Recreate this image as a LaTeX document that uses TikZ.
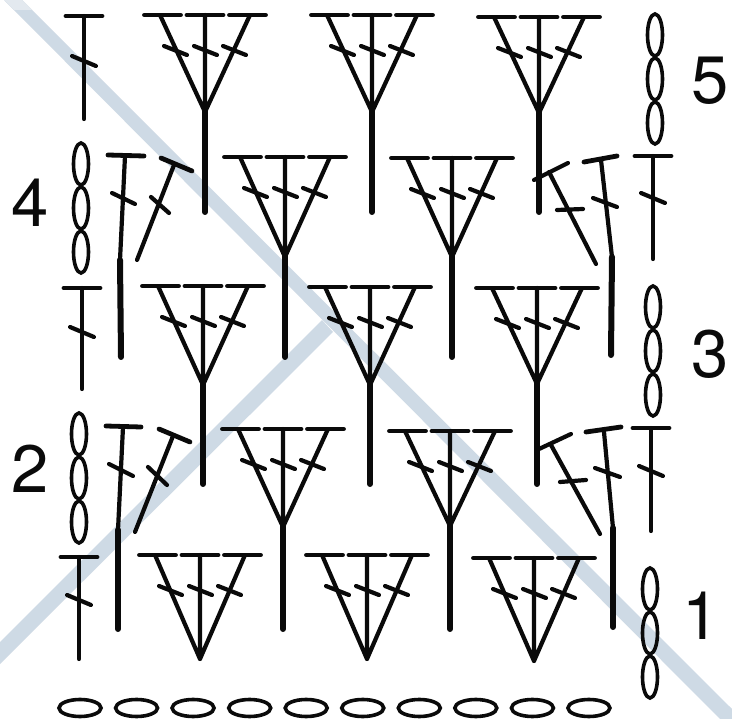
\documentclass[tikz,border=0pt]{standalone}
\usepackage{fontspec}
\setmainfont{TeX Gyre Heros}
\definecolor{band}{HTML}{CEDAE5}
\definecolor{bandlight}{HTML}{E3E9EF}
\definecolor{ink}{HTML}{0A0A0A}
\tikzset{
  thin stitch/.style={draw=ink,line width=4.2pt,line cap=round},
  bar stitch/.style={draw=ink,line width=4.8pt,line cap=round},
  thick stitch/.style={draw=ink,line width=6pt,line cap=round},
  chain stitch/.style={draw=ink,line width=3.6pt},
  row label/.style={font=\fontsize{67}{67}\selectfont,text=ink,inner sep=0pt},
}
% x, top y, apex y
\newcommand{\fanhead}[3]{%
  \draw[bar stitch] (#1-60.5,#2)--(#1-24.5,#2) (#1-18,#2)--(#1+18,#2) (#1+24.5,#2)--(#1+60.5,#2);
  \draw[thin stitch] (#1-45,#2)--(#1,#3) (#1,#2)--(#1,#3) (#1+45,#2)--(#1,#3);
  \draw[thin stitch] (#1-41,#2+31)--(#1-18,#2+40) (#1-11,#2+31)--(#1+12,#2+40) (#1+18,#2+31)--(#1+41,#2+40);
}
% x, top y, apex y, bottom y
\newcommand{\fanfull}[4]{%
  \fanhead{#1}{#2}{#3}
  \draw[thick stitch] (#1,#3-2)--(#1,#4);
}
% x, top y, bottom y, cross y
\newcommand{\tstitch}[4]{%
  \draw[bar stitch] (#1-18,#2)--(#1+18,#2);
  \draw[thin stitch] (#1,#2)--(#1,#3);
  \draw[thin stitch] (#1-12,#4-5)--(#1+12,#4+5);
}
% x, centre y of top link
\newcommand{\vchain}[2]{%
  \foreach \k in {0,1,2}{\draw[chain stitch] (#1,#2+44*\k) ellipse [x radius=7.5,y radius=21];}
}
\begin{document}
\begin{tikzpicture}[x=1pt,y=-1pt]
\useasboundingbox (0,0) rectangle (732,719);
\fill[white] (0,0) rectangle (732,719);
% pale diagonal bands
\fill[band] (4,0)--(22,0)--(732,709)--(732,719)--(720,719)--cycle;
\fill[bandlight] (4,0)--(22,0)--(32,10)--(14,10)--cycle;
\fill[band] (0,642)--(322,320)--(333,332)--(0,664)--cycle;
% row 5
\fanfull{205}{15}{112}{212}
\fanfull{372}{15}{112}{212}
\fanfull{539}{17}{113}{212}
\tstitch{84}{16}{119}{61}
\vchain{655}{35}
% row 4
\fanfull{285}{157}{257}{357}
\fanfull{452}{158}{257}{357}
\tstitch{653}{156}{259}{198}
\vchain{81}{164}
\draw[bar stitch] (108,155)--(144,156);
\draw[thin stitch] (125,156)--(120,260) (112,193)--(135,204);
\draw[thick stitch] (120,260)--(121,357);
\draw[bar stitch] (161,158)--(192,171);
\draw[thin stitch] (174,165)--(137,260) (151,197)--(169,213);
\draw[thin stitch] (534,180)--(568,163) (549,172)--(596,264) (557,210)--(583,209);
\draw[bar stitch] (584,162)--(617,156);
\draw[thin stitch] (601,160)--(612,257) (593,198)--(617,207);
\draw[thick stitch] (612,257)--(611,355);
% row 3
\fanfull{203}{286}{385}{484}
\fanfull{370}{287}{385}{484}
\fanfull{537}{288}{384}{484}
\tstitch{82}{288}{389}{332}
\vchain{653}{307}
% row 2
\fanfull{283}{429}{527}{629}
\fanfull{450}{431}{526}{629}
\tstitch{651}{428}{531}{471}
\vchain{79}{434}
\draw[bar stitch] (106,426)--(141,427);
\draw[thin stitch] (123,427)--(118,530) (109,464)--(133,476);
\draw[thick stitch] (118,530)--(118,629);
\draw[bar stitch] (159,429)--(190,442);
\draw[thin stitch] (173,436)--(135,532) (148,467)--(167,485);
\draw[thin stitch] (539,449)--(571,434) (551,445)--(600,534) (560,482)--(586,480);
\draw[bar stitch] (586,432)--(621,427);
\draw[thin stitch] (604,432)--(613,528) (595,468)--(620,477);
\draw[thick stitch] (613,528)--(613,627);
% row 1
\fanhead{200}{555}{659}
\fanhead{367}{555}{659}
\fanhead{534}{558}{661}
\tstitch{79}{557}{659}{600}
\vchain{650}{589}
% foundation chain
\foreach \i in {0,...,9}{\draw[chain stitch] (80+56.55*\i,708) ellipse [x radius=21,y radius=8.5];}
% row numbers
\node[row label] (r5) at (710,81) {5};
\node[row label] (r4) at (30,203) {4};
\node[row label] (r3) at (710,354) {3};
\node[row label] (r2) at (30,469) {2};
\node[row label] (r1) at (701,616) {1};
\end{tikzpicture}
\end{document}
